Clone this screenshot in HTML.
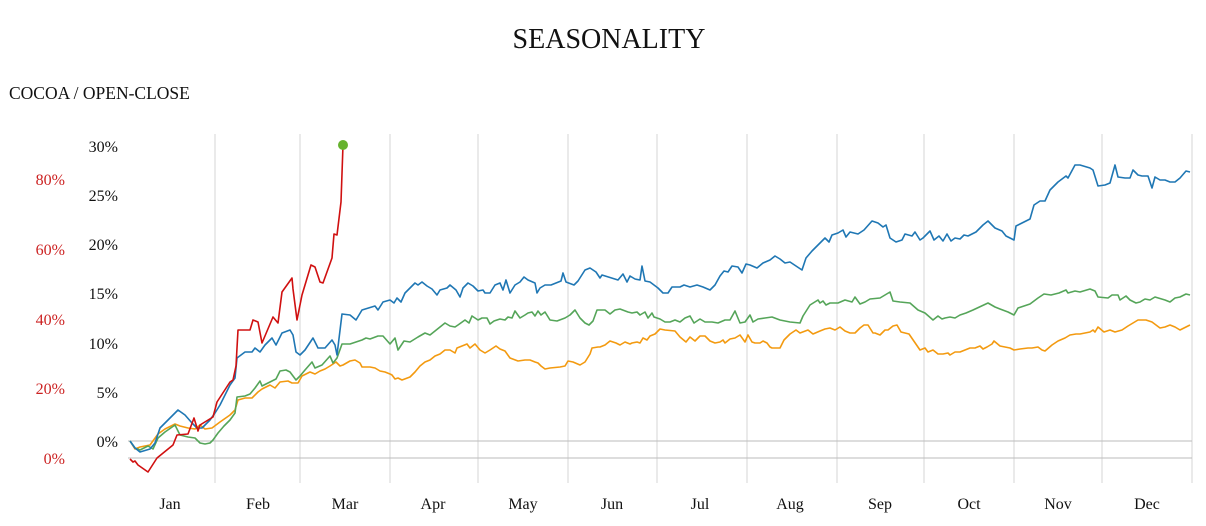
<!DOCTYPE html>
<html><head><meta charset="utf-8"><style>
html,body{margin:0;padding:0;background:#fff;}
svg{display:block;font-family:"Liberation Serif",serif;}
</style></head><body>
<svg width="1206" height="526" viewBox="0 0 1206 526" xmlns="http://www.w3.org/2000/svg">
<text x="609" y="48" font-size="28" text-anchor="middle" fill="#111">SEASONALITY</text>
<text x="9" y="99" font-size="17.5" fill="#111">COCOA / OPEN-CLOSE</text>
<g stroke="#d6d6d6" stroke-width="1">
<line x1="215" y1="134" x2="215" y2="483"/><line x1="300" y1="134" x2="300" y2="483"/>
<line x1="390" y1="134" x2="390" y2="483"/><line x1="478" y1="134" x2="478" y2="483"/>
<line x1="568" y1="134" x2="568" y2="483"/><line x1="657" y1="134" x2="657" y2="483"/>
<line x1="747" y1="134" x2="747" y2="483"/><line x1="837" y1="134" x2="837" y2="483"/>
<line x1="924" y1="134" x2="924" y2="483"/><line x1="1014" y1="134" x2="1014" y2="483"/>
<line x1="1102" y1="134" x2="1102" y2="483"/><line x1="1192" y1="134" x2="1192" y2="483"/>
</g>
<line x1="128" y1="441" x2="1192" y2="441" stroke="#bbb"/>
<line x1="128" y1="458" x2="1192" y2="458" stroke="#bbb"/>
<g font-size="16" fill="#111" text-anchor="end">
<text x="118" y="152">30%</text><text x="118" y="201">25%</text><text x="118" y="250">20%</text>
<text x="118" y="299">15%</text><text x="118" y="349">10%</text><text x="118" y="398">5%</text>
<text x="118" y="447">0%</text>
</g>
<g font-size="16" fill="#cc2222" text-anchor="end">
<text x="65" y="185">80%</text><text x="65" y="255">60%</text><text x="65" y="325">40%</text>
<text x="65" y="394">20%</text><text x="65" y="464">0%</text>
</g>
<g font-size="16" fill="#111" text-anchor="middle">
<text x="170" y="509">Jan</text><text x="258" y="509">Feb</text><text x="345" y="509">Mar</text>
<text x="433" y="509">Apr</text><text x="523" y="509">May</text><text x="612" y="509">Jun</text>
<text x="700" y="509">Jul</text><text x="790" y="509">Aug</text><text x="880" y="509">Sep</text>
<text x="969" y="509">Oct</text><text x="1058" y="509">Nov</text><text x="1147" y="509">Dec</text>
</g>
<g fill="none" stroke-width="1.6" stroke-linejoin="round">
<polyline stroke="#f39a10" points="130,441 135,449 140,447 150,445 158,434 165,429 175,424 180,426 188,428 195,429 200,425 205,429 212,428 220,422 230,415 235,410 238,400 245,398 252,398 258,392 262,389 270,385 275,388 280,382 288,381 292,383 298,383 302,376 310,372 315,374 320,371 325,369 330,366 336,362 340,366 343,365 350,361 355,360 360,363 362,367 370,367 375,368 380,371 385,372 390,374 392,375 395,379 398,378 402,380 410,377 415,372 420,366 425,362 430,360 435,356 440,354 445,350 450,350 455,353 457,348 462,346 467,344 470,348 475,344 480,350 485,353 490,350 496,346 500,349 505,351 510,358 518,361 525,360 530,360 535,362 538,363 541,366 545,369 550,368 560,367 565,366 568,361 573,362 580,365 585,362 590,354 592,348 598,347 600,347 605,345 610,341 616,343 620,345 625,342 630,344 632,343 637,342 640,343 643,338 647,340 650,336 655,334 660,329 665,330 675,331 680,337 686,342 690,337 695,341 700,336 705,336 710,341 715,343 720,342 723,340 725,343 730,339 735,338 740,335 745,342 748,335 752,342 755,343 760,343 763,341 767,343 770,347 772,348 780,348 784,340 790,334 796,330 800,333 808,330 813,334 820,331 825,329 830,328 835,330 840,327 845,331 850,333 855,333 860,328 864,325 868,325 873,333 875,333 880,335 885,330 888,330 893,326 897,325 901,332 909,334 920,350 925,348 928,352 933,350 938,354 943,354 948,353 950,355 955,352 960,352 965,350 970,348 975,348 980,346 983,349 987,347 992,344 994,341 1000,346 1010,348 1014,350 1020,349 1028,348 1032,348 1038,347 1042,350 1045,351 1052,345 1058,341 1065,338 1070,335 1076,334 1080,334 1090,332 1093,330 1095,332 1098,327 1104,332 1110,330 1115,332 1122,330 1128,326 1133,323 1138,320 1146,320 1152,322 1160,328 1165,327 1170,325 1175,327 1180,330 1186,327 1190,325"/>
<polyline stroke="#55a559" points="130,441 135,448 140,450 148,446 153,449 158,438 165,432 175,425 180,435 188,437 195,438 200,443 205,444 210,443 213,440 218,433 224,426 230,420 235,413 237,397 245,396 250,394 255,388 260,381 262,386 270,382 276,379 280,371 286,370 290,372 296,380 300,376 305,370 312,362 315,368 322,365 330,356 333,363 337,358 342,344 350,344 356,342 362,340 366,338 370,339 378,336 383,336 390,344 395,338 398,350 404,341 410,342 418,337 425,333 430,335 440,327 445,323 450,326 455,327 458,325 465,320 469,323 472,316 478,320 482,318 487,318 490,324 494,321 500,319 505,320 508,317 512,318 515,311 520,318 525,315 528,313 532,312 535,316 538,311 541,315 545,312 550,320 557,321 565,318 570,315 575,310 580,318 585,323 589,325 593,321 597,310 605,310 610,314 615,310 620,309 628,312 632,313 637,312 640,315 645,312 648,318 652,313 654,317 660,319 665,322 670,322 675,320 680,322 685,318 690,316 694,323 700,319 705,322 712,322 718,323 725,320 730,320 735,311 740,323 745,322 750,315 753,322 758,319 765,318 772,317 780,320 790,322 800,323 803,316 810,305 818,300 820,303 823,301 826,305 830,303 838,303 845,300 852,302 855,297 860,304 865,302 870,299 880,298 890,292 893,301 900,302 910,303 918,310 925,313 933,320 938,316 942,319 945,318 950,317 955,318 960,315 966,313 973,310 988,303 995,307 1000,309 1008,312 1014,315 1018,308 1030,304 1038,298 1044,294 1051,295 1059,293 1066,290 1068,293 1075,291 1080,292 1090,289 1095,291 1098,297 1108,298 1112,295 1118,295 1120,300 1126,296 1130,300 1136,303 1140,302 1145,299 1150,300 1155,297 1165,300 1170,302 1175,298 1180,297 1186,294 1190,295"/>
<polyline stroke="#1f77b4" points="130,441 135,448 140,452 150,449 155,443 160,428 170,418 178,410 185,415 192,423 197,428 202,428 210,420 215,413 220,405 225,395 230,385 235,378 237,358 245,352 252,352 255,348 260,352 265,345 272,338 276,345 282,333 290,330 293,335 296,352 300,355 305,350 313,338 318,348 325,348 332,340 335,345 337,355 342,314 350,315 356,320 362,310 375,306 378,310 383,302 390,300 394,303 397,298 401,302 405,293 410,288 415,283 418,285 422,282 427,286 432,289 437,295 440,290 447,288 450,285 456,290 460,297 463,288 468,283 473,286 478,291 483,290 485,293 490,293 495,285 500,283 503,290 506,280 510,293 515,285 520,282 524,277 528,280 535,283 537,293 540,288 545,285 551,285 556,283 561,281 563,273 566,282 574,285 578,281 585,270 590,268 596,272 600,278 602,275 618,280 623,274 627,282 630,276 635,279 640,280 642,266 645,281 650,282 658,288 663,293 668,293 672,287 680,287 684,285 690,287 697,285 703,287 710,290 715,285 720,276 724,271 728,272 732,266 738,267 742,273 746,264 750,265 757,268 763,263 770,260 775,256 780,259 785,263 790,262 796,266 802,270 806,258 812,251 818,245 825,238 829,242 832,235 838,233 843,230 846,237 850,232 858,234 864,230 872,221 878,223 883,227 886,225 890,238 896,242 902,240 905,234 912,236 915,232 920,240 923,238 930,231 934,240 939,236 943,241 947,234 951,241 955,238 960,239 964,235 968,236 976,232 983,225 988,221 995,228 1002,231 1006,236 1010,238 1014,240 1016,226 1022,223 1030,219 1034,205 1040,201 1045,201 1050,190 1058,182 1066,176 1068,178 1075,165 1080,165 1090,168 1093,170 1098,186 1105,185 1110,183 1115,165 1118,177 1125,178 1130,178 1133,170 1138,175 1142,176 1148,176 1152,188 1155,177 1160,180 1165,180 1170,182 1175,182 1180,178 1186,171 1190,172"/>
<polyline stroke="#d01010" points="130,459 133,462 135,461 138,465 148,472 157,458 173,445 177,435 188,434 194,418 198,431 200,425 213,417 217,402 230,382 233,380 236,366 238,330 250,330 253,320 258,322 262,343 273,317 278,323 282,292 292,278 293,289 297,320 302,295 311,265 315,267 320,282 323,283 332,258 334,234 337,235 341,202 343,145"/>
</g>
<circle cx="343" cy="145" r="5" fill="#66b22e"/>
</svg>
</body></html>
